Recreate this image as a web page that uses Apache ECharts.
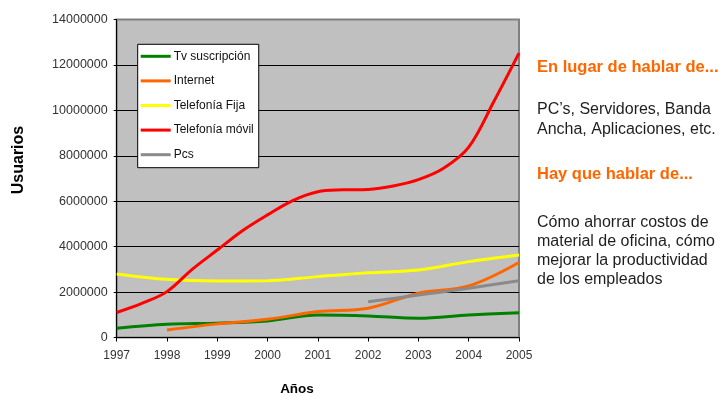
<!DOCTYPE html>
<html>
<head>
<meta charset="utf-8">
<script src="https://cdn.jsdelivr.net/npm/echarts@6/dist/echarts.min.js"></script>
<style>
  html, body { margin: 0; padding: 0; background: #ffffff; }
  #chart { width: 720px; height: 397px; }
</style>
</head>
<body>
<div id="chart"></div>
<script>
// Years on the horizontal axis
const years = [1997, 1998, 1999, 2000, 2001, 2002, 2003, 2004, 2005];
// Half-year sampling for the mobile series, which bends sharply
const halfYears = [1997, 1997.5, 1998, 1998.5, 1999, 1999.5, 2000, 2000.5, 2001,
                   2001.5, 2002, 2002.5, 2003, 2003.5, 2004, 2004.5, 2005];

// Users per service
const tvSuscripcion = [410000, 580000, 630000, 730000, 990000, 950000, 850000, 990000, 1090000];
const internet      = [null, 330000, 600000, 800000, 1140000, 1290000, 1950000, 2270000, 3300000];
const telefoniaFija = [2800000, 2560000, 2490000, 2500000, 2680000, 2850000, 2970000, 3340000, 3630000];
const telefoniaMovil = [1100000, 1500000, 2020000, 3000000, 3850000, 4700000, 5400000, 6030000, 6420000,
                        6500000, 6520000, 6670000, 6950000, 7450000, 8380000, 10390000, 12520000];
const pcs           = [null, null, null, null, null, 1570000, 1870000, 2170000, 2500000];

const seriesNames = ['Tv suscripción', 'Internet', 'Telefonía Fija', 'Telefonía móvil', 'Pcs'];
const seriesColors = ['#008000', '#ff6600', '#ffff00', '#ff0000', '#8a8a8a'];

// Right-hand note
const noteHeading1 = 'En lugar de hablar de...';
const noteBody1 = ['PC’s, Servidores, Banda', 'Ancha, Aplicaciones, etc.'];
const noteHeading2 = 'Hay que hablar de...';
const noteBody2 = ['Cómo ahorrar costos de', 'material de oficina, cómo', 'mejorar la productividad', 'de los empleados'];

const FONT = '"Liberation Sans", Arial, sans-serif';

function pairs(xs, ys) {
  return xs.map((x, i) => [x, ys[i]]);
}

const seriesData = [
  pairs(years, tvSuscripcion),
  pairs(years, internet),
  pairs(years, telefoniaFija),
  pairs(halfYears, telefoniaMovil),
  pairs(years, pcs)
];

const chart = echarts.init(document.getElementById('chart'), null, { renderer: 'canvas' });

const noteGraphics = [];
function noteText(text, y, bold, color) {
  noteGraphics.push({
    type: 'text',
    x: 537,
    y: y,
    style: {
      text: text,
      font: (bold ? 'bold 16.5px ' : '16px ') + FONT,
      fill: color,
      align: 'left',
      verticalAlign: 'middle'
    }
  });
}
noteText(noteHeading1, 67, true, '#ff6600');
noteBody1.forEach((t, i) => noteText(t, 110 + i * 19.3, false, '#1e1e1e'));
noteText(noteHeading2, 174.5, true, '#ff6600');
noteBody2.forEach((t, i) => noteText(t, 223 + i * 18.9, false, '#1e1e1e'));

const option = {
  backgroundColor: '#ffffff',
  animation: false,
  textStyle: { fontFamily: FONT },
  grid: {
    left: 116.7,
    right: 201,
    top: 19.5,
    bottom: 59.5,
    show: true,
    backgroundColor: '#c0c0c0',
    borderColor: '#808080',
    borderWidth: 2
  },
  legend: {
    orient: 'vertical',
    left: 137.7,
    top: 44.3,
    backgroundColor: '#ffffff',
    borderColor: '#000000',
    borderWidth: 1,
    borderRadius: 0,
    padding: [5, 5, 6, 3],
    itemGap: 10.6,
    itemWidth: 30,
    itemHeight: 3,
    icon: 'rect',
    data: seriesNames,
    textStyle: { fontFamily: FONT, fontSize: 12, color: '#111111', lineHeight: 14, padding: [0, 0, 0, -2] }
  },
  xAxis: {
    type: 'value',
    min: 1997,
    max: 2005,
    interval: 1,
    axisLine: { show: true, lineStyle: { color: '#000000', width: 1 } },
    axisTick: { show: true, length: 4, inside: false, lineStyle: { color: '#000000' } },
    axisLabel: {
      formatter: v => String(v),
      fontSize: 12,
      color: '#333333',
      margin: 12,
      fontFamily: FONT
    },
    splitLine: { show: false }
  },
  yAxis: {
    type: 'value',
    min: 0,
    max: 14000000,
    interval: 2000000,
    axisLine: { show: true, lineStyle: { color: '#000000', width: 1 } },
    axisTick: { show: true, length: 3, inside: false, lineStyle: { color: '#000000' } },
    axisLabel: {
      formatter: v => String(v),
      fontSize: 12.5,
      color: '#333333',
      margin: 9,
      fontFamily: FONT
    },
    splitLine: { show: true, showMaxLine: false, showMinLine: false, lineStyle: { color: '#000000', width: 1 } }
  },
  graphic: [
    {
      type: 'text',
      x: 19,
      y: 160,
      rotation: Math.PI / 2,
      style: {
        text: 'Usuarios',
        font: 'bold 16px ' + FONT,
        fill: '#000000',
        align: 'center',
        verticalAlign: 'middle'
      }
    },
    {
      type: 'text',
      x: 297,
      y: 389,
      style: {
        text: 'Años',
        font: 'bold 13.5px ' + FONT,
        fill: '#000000',
        align: 'center',
        verticalAlign: 'middle'
      }
    }
  ].concat(noteGraphics),
  series: seriesNames.map((name, i) => ({
    name: name,
    type: 'line',
    data: seriesData[i],
    smooth: 0.35,
    showSymbol: false,
    symbol: 'none',
    connectNulls: false,
    itemStyle: { color: seriesColors[i] },
    lineStyle: { color: seriesColors[i], width: 3 },
    emphasis: { disabled: true }
  }))
};

chart.setOption(option);
</script>
</body>
</html>
